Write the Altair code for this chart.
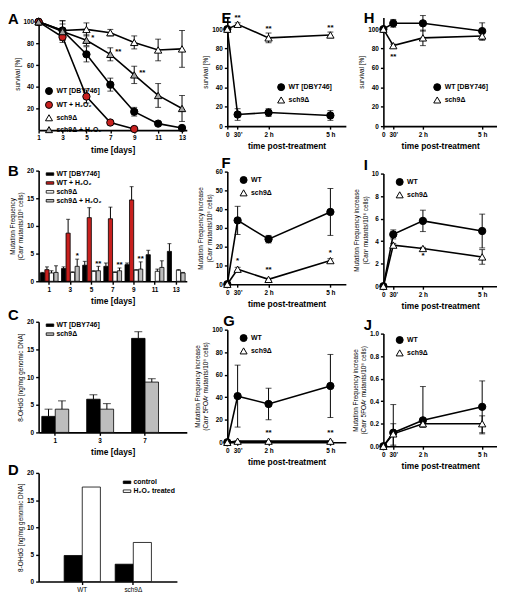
import altair as alt
import pandas as pd

FONT = "Liberation Sans"
RED = "#c8201e"
GRAY = "#bdbdbd"
TGRAY = "#a5a5a5"
RECT = "M-1.5,-0.5L1.5,-0.5L1.5,0.5L-1.5,0.5Z"

# ---------------- Panel A : chronological survival ----------------
a_names = ["WT [DBY746]", "WT + H₂O₂", "sch9Δ", "sch9Δ + H₂O₂"]
a_days = [1, 3, 5, 7, 9, 11, 13]
a_wt = [100, 92, 70, 42, 17, 6, 2]
a_wt_err = [0, 6, 7, 6, 4, 1.5, 1]
a_wth_days = [1, 3, 5, 7, 9]
a_wth = [100, 86, 31, 7, 1]
a_wth_err = [0, 3, 6, 1, 0.5]
a_sch = [100, 92, 93, 90, 81, 74, 75]
a_sch_err = [0, 9, 6, 3, 6, 10, 17]
a_schh = [100, 91, 83, 70, 51, 32, 20]
a_schh_err = [0, 10, 5, 6, 8, 11, 12]
a_star_x = [5, 7, 9]
a_star_y = [85, 72, 53]
a_star_t = ["*", "**", "**"]

# ---------------- Panel B : mutation frequency (Can^r) ----------------
b_names = ["WT [DBY746]", "WT + H₂O₂", "sch9Δ", "sch9Δ + H₂O₂"]
b_days = ["1", "3", "5", "7", "9", "11", "13"]
b_wt = [1.5, 2.3, 2.9, 2.7, 3.0, 4.8, 5.4]
b_wt_hi = [1.6, 2.6, 3.6, 3.3, 3.3, 5.6, 6.8]
b_wth_days = ["1", "3", "5", "7", "9"]
b_wth = [2.1, 8.7, 11.5, 11.3, 14.7]
b_wth_hi = [2.6, 11.2, 13.3, 13.4, 17.1]
b_sch = [1.5, 1.6, 1.8, 1.6, 2.0, 1.8, 2.0]
b_sch_hi = [1.9, 1.7, 1.9, 1.7, 2.1, 2.2, 2.1]
b_schh = [1.6, 2.7, 1.9, 1.9, 2.2, 2.5, 1.5]
b_schh_hi = [2.8, 4.0, 2.7, 2.4, 3.5, 3.7, 1.6]
b_star_days = ["3", "5", "7", "9"]
b_star_y = [4.6, 3.2, 2.9, 4.0]
b_star_t = ["*", "**", "**", "**"]

# ---------------- Panel C : 8-OHdG over time ----------------
c_names = ["WT [DBY746]", "sch9Δ"]
c_days = ["1", "3", "7"]
c_wt = [2.9, 6.0, 17.0]
c_wt_hi = [4.2, 6.8, 18.2]
c_sch = [4.2, 4.2, 9.1]
c_sch_hi = [5.7, 5.2, 9.7]

# ---------------- Panel D : 8-OHdG after H2O2 ----------------
d_names = ["control", "H₂O₂ treated"]
d_strains = ["WT", "sch9Δ"]
d_ctrl = [4.8, 3.2]
d_h2o2 = [17.4, 7.2]

# ---------------- Panels E-J : time post-treatment (minutes) ----------------
t_min = [0, 30, 120, 300]

e_wt = [100, 12, 14, 11]
e_wt_err = [0, 6, 4, 5]
e_sch = [100, 105, 91, 94]
e_sch_err = [0, 1.5, 5, 3]
e_star_x = [30, 120, 300]
e_star_y = [111, 100, 101]
e_star_t = ["**", "**", "**"]

f_wt = [0, 34, 24, 38.5]
f_wt_err = [0, 7.5, 2, 12.5]
f_sch = [0, 8, 2.6, 12.6]
f_sch_err = [0, 1, 0.5, 1]
f_star_x = [30, 120, 300]
f_star_y = [12.5, 7.5, 16.5]
f_star_t = ["*", "**", "*"]

g_wt = [0, 41, 34, 50]
g_wt_err = [0, 27.5, 14, 28]
g_sch = [0, 1, 1, 1]
g_sch_err = [0, 0, 0, 0]
g_star_x = [120, 300]
g_star_y = [8, 8]
g_star_t = ["**", "**"]

h_wt = [100, 106, 106, 98]
h_wt_err = [0, 4, 8, 8.5]
h_sch = [100, 83, 91, 93]
h_sch_err = [0, 1.5, 8, 4.5]
h_star_x = [30]
h_star_y = [71]
h_star_t = ["**"]

i_wt = [0, 4.6, 5.8, 4.9]
i_wt_err = [0, 0.4, 0.95, 1.5]
i_sch = [0, 3.65, 3.35, 2.6]
i_sch_err = [0, 0.15, 0.1, 0.65]
i_star_x = [120]
i_star_y = [2.7]
i_star_t = ["*"]

j_wt = [0, 0.12, 0.23, 0.35]
j_wt_lo = [0, 0.0, 0.17, 0.11]
j_wt_hi = [0, 0.37, 0.53, 0.58]
j_sch = [0, 0.11, 0.20, 0.20]
j_sch_lo = [0, 0.01, 0.17, 0.12]
j_sch_hi = [0, 0.20, 0.23, 0.27]


# ---------------- helpers ----------------
def sym(ys, errs):
    return [y - e for y, e in zip(ys, errs)], [y + e for y, e in zip(ys, errs)]


def sframe(name, xs, ys, lo, hi):
    return pd.DataFrame({"s": name, "x": xs, "y": ys, "lo": lo, "hi": hi})


def letter_layer(ch, pos):
    dx, dy = pos
    return alt.Chart(pd.DataFrame({"t": [ch]})).mark_text(
        font=FONT, fontSize=15, fontWeight="bold", align="left",
        baseline="alphabetic", color="black"
    ).encode(text="t:N", x=alt.value(dx), y=alt.value(dy))


def legend(x, y, rect=False):
    kw = dict(orient="none", legendX=x, legendY=y, title=None, labelFont=FONT,
              labelFontSize=7, labelFontWeight="bold", labelColor="black",
              symbolStrokeColor="black", symbolStrokeWidth=1, rowPadding=1,
              padding=0, labelOffset=3)
    if rect:
        kw.update(symbolType=RECT, symbolSize=26, symbolStrokeWidth=0.8)
    else:
        kw.update(symbolSize=50)
    return alt.Legend(**kw)


def line_panel(df, names, fills, shapes, x_scale, x_axis, y_domain, y_values,
               y_title, leg, star_df, letter, letter_pos, w, h, star_dx=0,
               y_format=None):
    ysc = alt.Scale(domain=y_domain, nice=False, zero=False)
    ax_kw = dict(values=y_values, title=y_title)
    if y_format:
        ax_kw["format"] = y_format
    yax = alt.Axis(**ax_kw)

    def X():
        return alt.X("x:Q", scale=x_scale, axis=x_axis)

    def Y(f):
        return alt.Y(f + ":Q", scale=ysc, axis=yax)

    base = alt.Chart(df)
    lines = base.mark_line(color="black", strokeWidth=1.6).encode(
        x=X(), y=Y("y"), detail="s:N")
    err = base.mark_rule(color="black", strokeWidth=1).encode(
        x=X(), y=Y("lo"), y2="hi:Q")
    cap_lo = base.mark_tick(orient="horizontal", color="black", size=6,
                            thickness=1).encode(x=X(), y=Y("lo"))
    cap_hi = base.mark_tick(orient="horizontal", color="black", size=6,
                            thickness=1).encode(x=X(), y=Y("hi"))
    pts = base.mark_point(filled=True, size=55, strokeWidth=1,
                          opacity=1).encode(
        x=X(), y=Y("y"),
        fill=alt.Fill("s:N", scale=alt.Scale(domain=names, range=fills), legend=leg),
        shape=alt.Shape("s:N", scale=alt.Scale(domain=names, range=shapes), legend=leg),
        stroke=alt.Stroke("s:N", scale=alt.Scale(domain=names,
                                                 range=["black"] * len(names)),
                          legend=leg))
    stars = alt.Chart(star_df).mark_text(
        font=FONT, fontSize=8, fontWeight="bold", color="black",
        baseline="middle", align="left" if star_dx else "center", dx=star_dx
    ).encode(x=X(), y=Y("y"), text="t:N")
    return alt.layer(lines, err, cap_lo, cap_hi, pts, stars,
                     letter_layer(letter, letter_pos)).properties(width=w, height=h)


def bar_panel(df, names, fills, cats, x_scale, x_axis, off_pad, y_title, leg,
              letter, letter_pos, w, h, cap, star_df=None):
    ysc = alt.Scale(domain=[0, 20], nice=False)
    yax = alt.Axis(values=[0, 5, 10, 15, 20], title=y_title)
    X = alt.X("c:N", sort=cats, scale=x_scale, axis=x_axis)
    XO = alt.XOffset("s:N", sort=names,
                     scale=alt.Scale(domain=names, paddingInner=off_pad))

    def Y(f):
        return alt.Y(f + ":Q", scale=ysc, axis=yax)

    base = alt.Chart(df)
    bars = base.mark_bar(stroke="black", strokeWidth=0.8).encode(
        x=X, xOffset=XO, y=Y("v"),
        fill=alt.Fill("s:N", scale=alt.Scale(domain=names, range=fills), legend=leg))
    err = base.transform_filter("datum.hi > datum.v").mark_rule(
        color="black", strokeWidth=1).encode(x=X, xOffset=XO, y=Y("v"), y2="hi:Q")
    caps = base.transform_filter("datum.hi > datum.v").mark_tick(
        orient="horizontal", color="black", size=cap, thickness=1).encode(
        x=X, xOffset=XO, y=Y("hi"))
    layers = [bars, err, caps]
    if star_df is not None:
        layers.append(alt.Chart(star_df).mark_text(
            font=FONT, fontSize=8, fontWeight="bold", color="black",
            baseline="middle").encode(x=X, xOffset=XO, y=Y("v"), text="t:N"))
    layers.append(letter_layer(letter, letter_pos))
    return alt.layer(*layers).properties(width=w, height=h)


T_EXPR = ("datum.value == 0 ? '0' : (datum.value == 30 ? \"30'\" : "
          "(datum.value == 120 ? '2 h' : '5 h'))")


def t_axis():
    return alt.Axis(values=t_min, labelExpr=T_EXPR, labelOverlap=False,
                    labelFlush=False, title="time post-treatment")


def t_scale():
    return alt.Scale(domain=[0, 345], nice=False, zero=False)


W1, W2, W3 = 150, 120, 115

# ---------------- build A ----------------
a_df = pd.concat([
    sframe(a_names[0], a_days, a_wt, *sym(a_wt, a_wt_err)),
    sframe(a_names[1], a_wth_days, a_wth, *sym(a_wth, a_wth_err)),
    sframe(a_names[2], a_days, a_sch, *sym(a_sch, a_sch_err)),
    sframe(a_names[3], a_days, a_schh, *sym(a_schh, a_schh_err)),
])
a_star = pd.DataFrame({"x": a_star_x, "y": a_star_y, "t": a_star_t})
chart_a = line_panel(
    a_df, a_names, ["black", RED, "white", TGRAY],
    ["circle", "circle", "triangle-up", "triangle-up"],
    alt.Scale(domain=[1, 13.4], nice=False, zero=False),
    alt.Axis(values=a_days, labelFlush=False, title="time [days]"),
    [0, 104], [20, 40, 60, 80, 100], "survival [%]",
    legend(6, 70), a_star, "A", (-31, 7), W1, 114, star_dx=5)

# ---------------- build B ----------------
b_rows = []
for name, cats, vals, his in [
    (b_names[0], b_days, b_wt, b_wt_hi),
    (b_names[1], b_wth_days, b_wth, b_wth_hi),
    (b_names[2], b_days, b_sch, b_sch_hi),
    (b_names[3], b_days, b_schh, b_schh_hi),
]:
    b_rows.append(pd.DataFrame({"s": name, "c": cats, "v": vals, "hi": his}))
b_df = pd.concat(b_rows)
b_star = pd.DataFrame({"s": b_names[3], "c": b_star_days, "v": b_star_y, "t": b_star_t})
chart_b = bar_panel(
    b_df, b_names, ["black", RED, "white", GRAY], b_days,
    alt.Scale(paddingInner=0.16, paddingOuter=0.08),
    alt.Axis(labelAngle=0, title="time [days]"), 0.08,
    ["Mutation Frequency", "(Canʳ mutants/10⁶ cells)"],
    legend(8, 0, rect=True), "B", (-31, 5), W1, 112, 4, b_star)

# ---------------- build C ----------------
c_df = pd.concat([
    pd.DataFrame({"s": c_names[0], "c": c_days, "v": c_wt, "hi": c_wt_hi}),
    pd.DataFrame({"s": c_names[1], "c": c_days, "v": c_sch, "hi": c_sch_hi}),
])
chart_c = bar_panel(
    c_df, c_names, ["black", GRAY], c_days,
    alt.Scale(paddingInner=0.4, paddingOuter=0.35, align=0.1),
    alt.Axis(labelAngle=0, title="time [days]"), 0.0,
    "8-OHdG [ng/mg genomic DNA]",
    legend(8, 0, rect=True), "C", (-31, -2), W1, 112, 8)

# ---------------- build D ----------------
d_df = pd.concat([
    pd.DataFrame({"s": d_names[0], "c": d_strains, "v": d_ctrl, "hi": d_ctrl}),
    pd.DataFrame({"s": d_names[1], "c": d_strains, "v": d_h2o2, "hi": d_h2o2}),
])
chart_d = bar_panel(
    d_df, d_names, ["black", "white"], d_strains,
    alt.Scale(paddingInner=0.29, paddingOuter=0.5),
    alt.Axis(labelAngle=0, title=None, labelFontWeight="normal"), 0.0,
    "8-OHdG [ng/mg genomic DNA]",
    legend(86, 6, rect=True), "D", (-31, 2), 140, 110, 8)


def tp_df(wt_name, wt, wt_lo, wt_hi, sch, sch_lo, sch_hi):
    return pd.concat([
        sframe(wt_name, t_min, wt, wt_lo, wt_hi),
        sframe("sch9Δ", t_min, sch, sch_lo, sch_hi),
    ])


def stars(xs, ys, ts):
    return pd.DataFrame({"x": xs, "y": ys, "t": ts})


CIRC_TRI = ["circle", "triangle-up"]
BW = ["black", "white"]

chart_e = line_panel(
    tp_df("WT [DBY746]", e_wt, *sym(e_wt, e_wt_err), e_sch, *sym(e_sch, e_sch_err)),
    ["WT [DBY746]", "sch9Δ"], BW, CIRC_TRI, t_scale(), t_axis(),
    [0, 112], [0, 20, 40, 60, 80, 100], "survival [%]",
    legend(50, 66), stars(e_star_x, e_star_y, e_star_t), "E", (-6, 6), W2, 110)

chart_f = line_panel(
    tp_df("WT", f_wt, *sym(f_wt, f_wt_err), f_sch, *sym(f_sch, f_sch_err)),
    ["WT", "sch9Δ"], BW, CIRC_TRI, t_scale(), t_axis(),
    [0, 60], [0, 10, 20, 30, 40, 50, 60],
    ["Mutation Frequency increase", "(Canʳ mutants/10⁶ cells)"],
    legend(12, 4), stars(f_star_x, f_star_y, f_star_t), "F", (-6, -4), W2, 114)

chart_g = line_panel(
    tp_df("WT", g_wt, *sym(g_wt, g_wt_err), g_sch, *sym(g_sch, g_sch_err)),
    ["WT", "sch9Δ"], BW, CIRC_TRI, t_scale(), t_axis(),
    [0, 100], [0, 20, 40, 60, 80, 100],
    ["Mutation Frequency increase", "(Canʳ 5FOAʳ mutants/10⁸ cells)"],
    legend(12, 4), stars(g_star_x, g_star_y, g_star_t), "G", (-4, -4), W2, 114)

chart_h = line_panel(
    tp_df("WT [DBY746]", h_wt, *sym(h_wt, h_wt_err), h_sch, *sym(h_sch, h_sch_err)),
    ["WT [DBY746]", "sch9Δ"], BW, CIRC_TRI, t_scale(), t_axis(),
    [0, 112], [0, 20, 40, 60, 80, 100], "survival [%]",
    legend(50, 66), stars(h_star_x, h_star_y, h_star_t), "H", (-20, 6), W3, 110)

chart_i = line_panel(
    tp_df("WT", i_wt, *sym(i_wt, i_wt_err), i_sch, *sym(i_sch, i_sch_err)),
    ["WT", "sch9Δ"], BW, CIRC_TRI, t_scale(), t_axis(),
    [0, 10], [0, 2, 4, 6, 8, 10],
    ["Mutation Frequency increase", "(Canʳ mutants/10⁶ cells)"],
    legend(12, 4), stars(i_star_x, i_star_y, i_star_t), "I", (-20, -4), W3, 114)

chart_j = line_panel(
    tp_df("WT", j_wt, j_wt_lo, j_wt_hi, j_sch, j_sch_lo, j_sch_hi),
    ["WT", "sch9Δ"], BW, CIRC_TRI, t_scale(), t_axis(),
    [0, 1], [0, 0.2, 0.4, 0.6, 0.8, 1.0],
    ["Mutation Frequency increase", "(Canʳ 5FOAʳ mutants/10⁸ cells)"],
    legend(12, 2), stars([], [], []), "J", (-20, -4), W3, 114, y_format=".1f")


def ind(c):
    return c.resolve_scale(fill="independent", shape="independent",
                           stroke="independent",
                           x="independent", y="independent",
                           xOffset="independent").resolve_legend(
        fill="independent", shape="independent", stroke="independent")


col1 = ind(alt.vconcat(chart_a, chart_b, chart_c, chart_d, spacing=41,
                       bounds="flush"))
col2 = ind(alt.vconcat(chart_e, chart_f, chart_g, spacing=46, bounds="flush"))
col3 = ind(alt.vconcat(chart_h, chart_i, chart_j, spacing=48, bounds="flush"))

chart = ind(alt.hconcat(col1, col2, col3, spacing=6)).properties(
    padding={"left": 0, "top": 0, "right": 0, "bottom": 0}
).configure(
    font=FONT
).configure_axis(
    domainColor="black", domainWidth=1.6, tickColor="black", tickWidth=1.4,
    tickSize=3, labelFont=FONT, labelFontSize=6.5, labelFontWeight="bold",
    labelColor="black", labelPadding=2, titleFont=FONT, titleFontSize=6.5,
    titleFontWeight="normal", titleColor="black", titlePadding=3, grid=False
).configure_axisX(
    titleFontSize=8.5, titleFontWeight="bold", titlePadding=4
).configure_view(stroke=None)

chart.save("out.html", embed_options={"renderer": "svg", "actions": False})
